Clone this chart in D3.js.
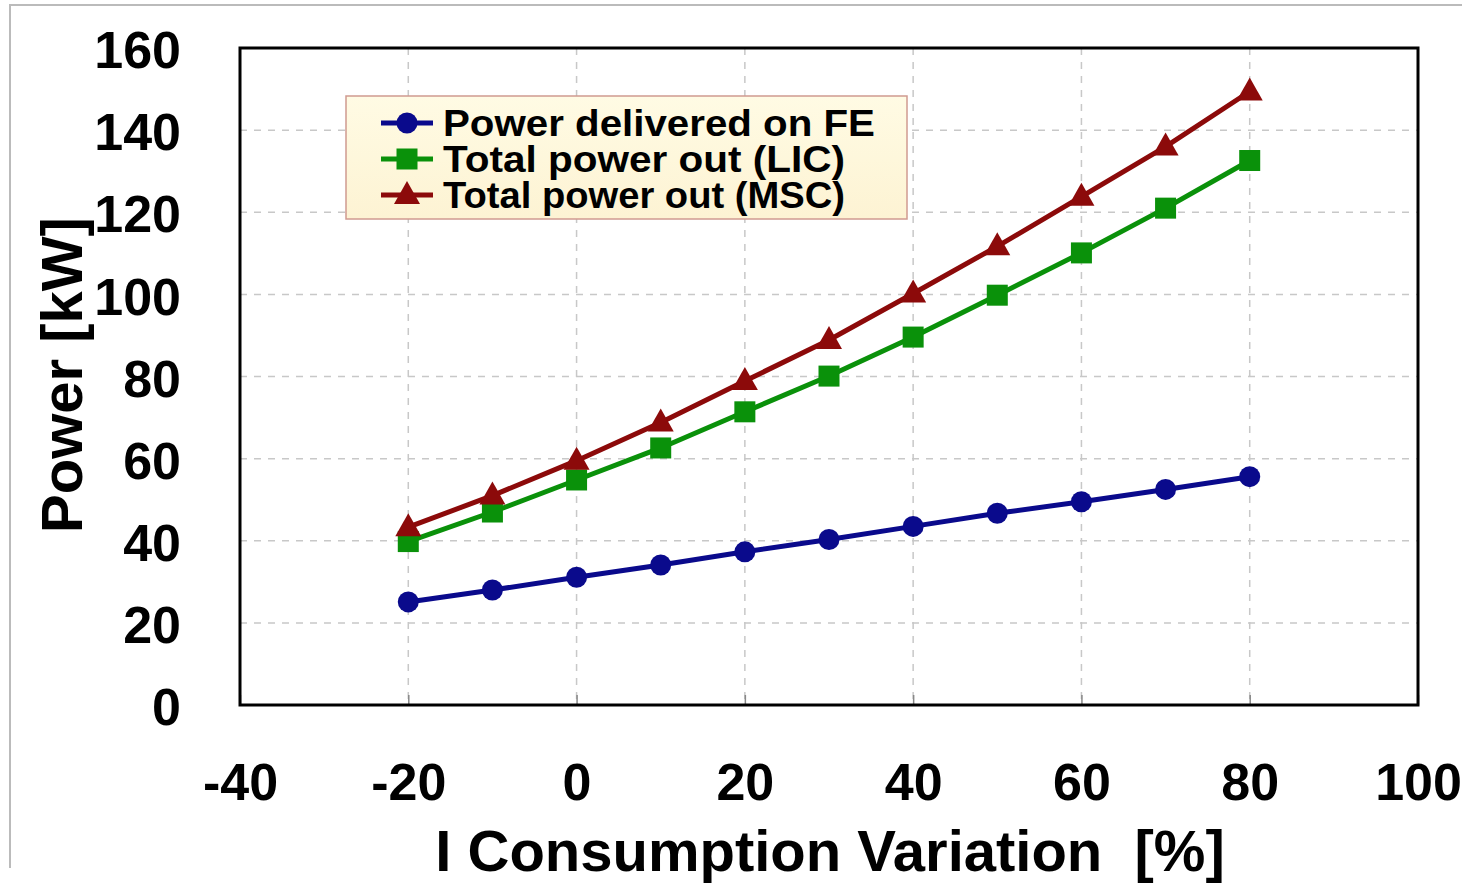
<!DOCTYPE html>
<html>
<head>
<meta charset="utf-8">
<script src="https://cdn.jsdelivr.net/npm/d3@7"></script>
<style>
  body { margin: 0; background: #fff; }
  text { font-family: "Liberation Sans", Arial, sans-serif; font-weight: bold; }
</style>
</head>
<body>
<div id="chart"></div>
<script>
// data
const variation = [-20, -10, 0, 10, 20, 30, 40, 50, 60, 70, 80];
const powerFE = [25.1, 28.0, 31.1, 34.1, 37.3, 40.3, 43.5, 46.7, 49.5, 52.5, 55.6];
const powerLIC = [39.8, 47.0, 54.8, 62.6, 71.4, 80.1, 89.6, 99.8, 110.1, 121.0, 132.6];
const powerMSC = [43.3, 51.0, 59.5, 68.8, 78.9, 88.9, 100.2, 111.7, 123.8, 136.0, 149.4];
const xTicks = [-40, -20, 0, 20, 40, 60, 80, 100];
const yTicks = [0, 20, 40, 60, 80, 100, 120, 140, 160];
const seriesNames = ["Power delivered on FE", "Total power out (LIC)", "Total power out (MSC)"];

const width = 1468,
    height = 893;

const margin = {
    top: 48,
    bottom: 188,
    left: 240,
    right: 50
};

const svg = d3.select("#chart")
    .append("svg")
    .attr("width", width)
    .attr("height", height);

// faint outer frame of the original figure
svg.append("path")
    .attr("d", `M10,${height - 25} L10,5 L${width - 6},5`)
    .attr("fill", "none")
    .attr("stroke", "#bbb")
    .attr("stroke-width", 2);

const xScale = d3.scaleLinear()
    .domain([-40, 100])
    .range([margin.left, width - margin.right]);

const yScale = d3.scaleLinear()
    .domain([0, 160])
    .range([height - margin.bottom, margin.top]);

// grid lines
svg.append("g")
    .selectAll("line")
    .data(yTicks.slice(1, -1))
    .enter().append("line")
    .attr("x1", margin.left)
    .attr("x2", width - margin.right)
    .attr("y1", d => yScale(d))
    .attr("y2", d => yScale(d))
    .attr("stroke", "#c8c8c8")
    .attr("stroke-width", 1.5)
    .attr("stroke-dasharray", "7,7");

svg.append("g")
    .selectAll("line")
    .data(xTicks.slice(1, -1))
    .enter().append("line")
    .attr("x1", d => xScale(d))
    .attr("x2", d => xScale(d))
    .attr("y1", margin.top)
    .attr("y2", height - margin.bottom)
    .attr("stroke", "#c8c8c8")
    .attr("stroke-width", 1.5)
    .attr("stroke-dasharray", "7,7");

// axes, tick labels only (plain hyphen for negatives)
const plain = d => String(d);

const xAxis = svg.append("g")
    .attr("transform", `translate(0, ${height - margin.bottom})`)
    .call(d3.axisBottom(xScale).tickValues(xTicks).tickFormat(plain).tickSize(-10).tickPadding(58));
xAxis.select(".domain").remove();
xAxis.selectAll("line").attr("stroke", "#888").attr("stroke-width", 1.5);
xAxis.selectAll("text")
    .attr("fill", "#000")
    .style("font-size", "52px")
    .attr("dy", "0.71em");

const yAxis = svg.append("g")
    .attr("transform", `translate(${margin.left}, 3)`)
    .call(d3.axisLeft(yScale).tickValues(yTicks).tickFormat(plain).tickSize(0).tickPadding(59));
yAxis.select(".domain").remove();
yAxis.selectAll("text")
    .attr("fill", "#000")
    .style("font-size", "52px");

// plot frame
svg.append("rect")
    .attr("x", margin.left)
    .attr("y", margin.top)
    .attr("width", width - margin.left - margin.right)
    .attr("height", height - margin.top - margin.bottom)
    .attr("fill", "none")
    .attr("stroke", "#000")
    .attr("stroke-width", 3);

// series
const series = [
    { name: seriesNames[0], values: powerFE, color: "#0a0a8c", shape: "circle" },
    { name: seriesNames[1], values: powerLIC, color: "#0a910a", shape: "square" },
    { name: seriesNames[2], values: powerMSC, color: "#8c0a0a", shape: "triangle" }
];

const line = d3.line()
    .x(d => xScale(d[0]))
    .y(d => yScale(d[1]));

function marker(g, shape, color) {
    if (shape === "circle") {
        g.append("circle").attr("r", 10.5).attr("fill", color);
    } else if (shape === "square") {
        g.append("rect").attr("x", -10.5).attr("y", -10.5).attr("width", 21).attr("height", 21).attr("fill", color);
    } else {
        g.append("path").attr("d", "M0,-14 L13,9 L-13,9 Z").attr("fill", color);
    }
}

series.forEach(s => {
    const pts = variation.map((v, i) => [v, s.values[i]]);
    svg.append("path")
        .datum(pts)
        .attr("d", line)
        .attr("fill", "none")
        .attr("stroke", s.color)
        .attr("stroke-width", 5);

    svg.selectAll(null)
        .data(pts)
        .enter().append("g")
        .attr("transform", d => `translate(${xScale(d[0])},${yScale(d[1])})`)
        .each(function() { marker(d3.select(this), s.shape, s.color); });
});

// legend
const defs = svg.append("defs");
const grad = defs.append("linearGradient")
    .attr("id", "legendFill")
    .attr("x1", 0).attr("y1", 0).attr("x2", 0).attr("y2", 1);
grad.append("stop").attr("offset", "0%").attr("stop-color", "#fffbe4");
grad.append("stop").attr("offset", "100%").attr("stop-color", "#fdf3d3");

const legendBox = svg.append("g").attr("transform", "translate(346, 96)");
legendBox.append("rect")
    .attr("width", 561)
    .attr("height", 123)
    .attr("fill", "url(#legendFill)")
    .attr("stroke", "#d09a90")
    .attr("stroke-width", 1.5);

const legend = legendBox.selectAll(".legend")
    .data(series)
    .enter().append("g")
    .attr("class", "legend")
    .attr("transform", (d, i) => `translate(0, ${27 + i * 36})`);

legend.append("line")
    .attr("x1", 35)
    .attr("x2", 87)
    .attr("stroke", d => d.color)
    .attr("stroke-width", 5);

legend.append("g")
    .attr("transform", "translate(61, 0)")
    .each(function(d) { marker(d3.select(this), d.shape, d.color); });

legend.append("text")
    .attr("x", 97)
    .attr("dy", "0.36em")
    .style("font-size", "37px")
    .attr("textLength", d => d.name === seriesNames[0] ? 432 : 402)
    .attr("lengthAdjust", "spacingAndGlyphs")
    .text(d => d.name);

// axis titles
svg.append("text")
    .attr("x", 830)
    .attr("y", 871)
    .style("text-anchor", "middle")
    .style("font-size", "58px")
    .attr("xml:space", "preserve")
    .text("I Consumption Variation  [%]");

svg.append("text")
    .attr("transform", "translate(82, 375) rotate(-90)")
    .style("text-anchor", "middle")
    .style("font-size", "58px")
    .text("Power [kW]");
</script>
</body>
</html>
